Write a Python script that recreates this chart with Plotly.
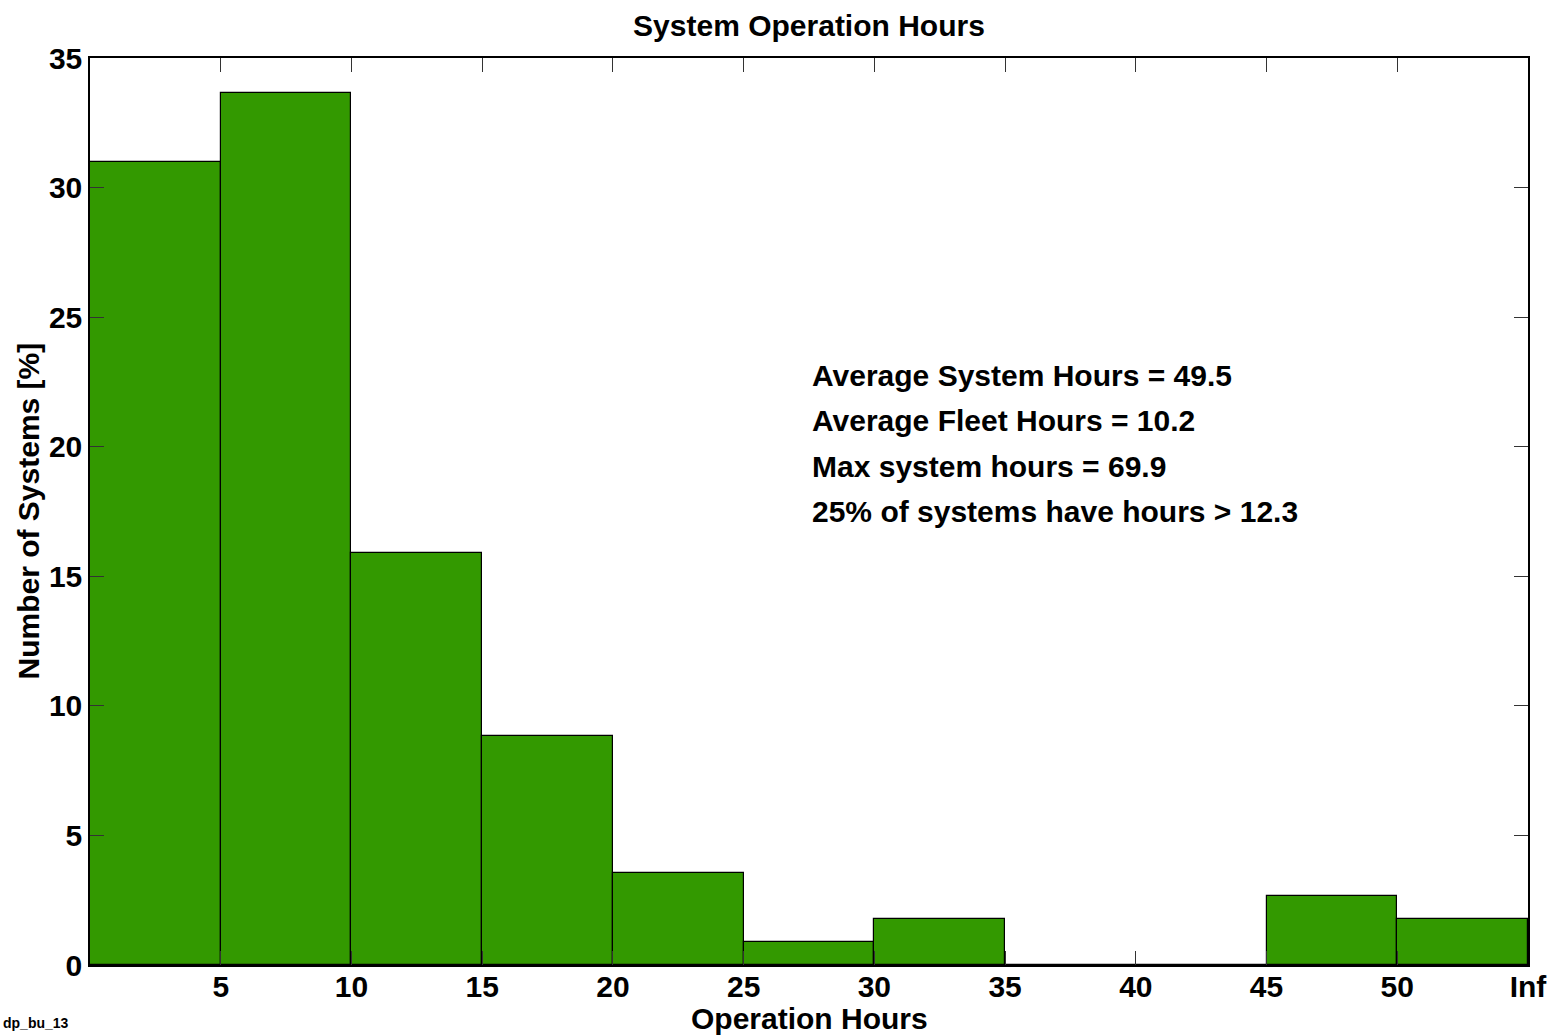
import plotly.graph_objects as go

bin_centers = [2.5, 7.5, 12.5, 17.5, 22.5, 27.5, 32.5, 37.5, 42.5, 47.5, 52.5]
percent_systems = [31.0, 33.65, 15.9, 8.85, 3.55, 0.9, 1.78, 0.0, 0.0, 2.65, 1.78]
x_tickvals = [5, 10, 15, 20, 25, 30, 35, 40, 45, 50, 55]
x_ticktext = ["5", "10", "15", "20", "25", "30", "35", "40", "45", "50", "Inf"]
y_tickvals = [0, 5, 10, 15, 20, 25, 30, 35]
stats_lines = [
    "Average System Hours = 49.5",
    "Average Fleet Hours = 10.2",
    "Max system hours = 69.9",
    "25% of systems have hours > 12.3",
]
stats_y = [22.75, 21.0, 19.25, 17.5]

FONT = "Liberation Sans, Arial, sans-serif"
BIG = dict(family=FONT, size=30, color="black", weight="bold")

fig = go.Figure()
fig.add_trace(go.Bar(
    x=bin_centers, y=percent_systems, width=5,
    marker=dict(color="#339900", line=dict(color="black", width=1.2)),
))

for txt, yv in zip(stats_lines, stats_y):
    fig.add_annotation(x=27.55, y=yv, xref="x", yref="y", text=txt, showarrow=False,
                       xanchor="left", yanchor="middle", font=BIG)

# axis titles
fig.add_annotation(x=0.5, y=0, xref="paper", yref="paper", yshift=-53,
                   text="Operation Hours", showarrow=False, xanchor="center", yanchor="middle",
                   font=BIG)
fig.add_annotation(x=0, y=0.5, xref="paper", yref="paper", xshift=-62,
                   text="Number of Systems [%]", showarrow=False, textangle=-90,
                   xanchor="center", yanchor="middle", font=BIG)

fig.add_annotation(x=0, y=0, xref="paper", yref="paper", xshift=-89, yshift=-68,
                   text="dp_bu_13", showarrow=False, xanchor="left", yanchor="bottom",
                   font=dict(family=FONT, size=14, color="black", weight="bold"))

fig.update_layout(
    width=1551, height=1035,
    margin=dict(l=90, r=23, t=58, b=70, autoexpand=False),
    paper_bgcolor="white", plot_bgcolor="white",
    showlegend=False, bargap=0,
    title=dict(text="System Operation Hours", x=0.5, xref="paper", y=1 - 25 / 1035, yref="container",
               xanchor="center", yanchor="middle", font=BIG),
    xaxis=dict(range=[0, 55], tickvals=x_tickvals, ticktext=x_ticktext,
               ticks="inside", ticklen=14, tickwidth=1.2, tickcolor="#333",
               showline=True, linecolor="black", linewidth=1.5, mirror="ticks",
               showgrid=False, zeroline=False, automargin=False,
               ticklabelstandoff=-6, tickfont=BIG),
    yaxis=dict(range=[0, 35], tickvals=y_tickvals,
               ticks="inside", ticklen=14, tickwidth=1.2, tickcolor="#333",
               showline=True, linecolor="black", linewidth=1.5, mirror="ticks",
               showgrid=False, zeroline=False, automargin=False,
               tickfont=BIG),
)

fig.write_html("out.html", config={"displayModeBar": False},
               post_script="document.body.style.margin='0';document.body.style.overflow='hidden';")
